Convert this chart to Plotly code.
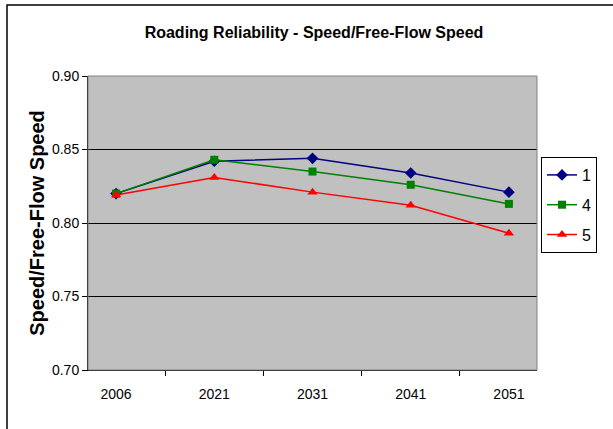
import plotly.graph_objects as go

# chart data
years = ["2006", "2021", "2031", "2041", "2051"]
s1 = [0.820, 0.842, 0.844, 0.834, 0.821]
s4 = [0.820, 0.843, 0.835, 0.826, 0.813]
s5 = [0.819, 0.831, 0.821, 0.812, 0.793]
names = ["1", "4", "5"]

FONT = "Liberation Sans, Arial, sans-serif"

fig = go.Figure()
fig.add_scatter(x=years, y=s1, name=names[0], mode="lines+markers", legendgroup="a",
                line=dict(color="#000080", width=1.5),
                marker=dict(symbol="diamond", size=9, color="#000080"))
fig.add_scatter(x=years, y=s4, name=names[1], mode="lines+markers", legendgroup="b",
                line=dict(color="#008000", width=1.5),
                marker=dict(symbol="square", size=8, color="#008000"))
fig.add_scatter(x=years, y=s5, name=names[2], mode="lines+markers", legendgroup="c",
                line=dict(color="#FF0000", width=1.5),
                marker=dict(symbol="triangle-up", size=9, color="#FF0000"))

# plot area in px (body margin is removed below, so page px == figure px)
FW, FH = 613, 429
L, T = 88, 76
W, H = 449, 294
R, B = FW - L - W, FH - T - H

fig.update_layout(
    width=FW, height=FH,
    margin=dict(l=L, r=R, t=T, b=B),
    paper_bgcolor="white",
    plot_bgcolor="#C0C0C0",
    font=dict(family=FONT, size=14, color="black"),
    title=dict(text="<b>Roading Reliability - Speed/Free-Flow Speed</b>",
               x=314 / FW, xanchor="center",
               y=1 - 32 / FH, yanchor="middle",
               font=dict(size=16, family=FONT)),
    showlegend=True,
    legend=dict(x=1 + (541 - 537) / W, xanchor="left",
                y=1 - (157 - T) / H, yanchor="top",
                bgcolor="white", bordercolor="black", borderwidth=1,
                font=dict(size=16), traceorder="grouped", tracegroupgap=6,
                itemwidth=30),
    xaxis=dict(type="category", showgrid=False, showline=True,
               linecolor="black", linewidth=1,
               ticks="outside", tickson="boundaries", ticklen=5,
               tickcolor="black", tickfont=dict(size=14),
               ticklabelstandoff=11),
    yaxis=dict(range=[0.70, 0.90], dtick=0.05, tickformat=".2f",
               showgrid=True, gridcolor="black", gridwidth=1,
               showline=True, linecolor="black", linewidth=1,
               ticks="outside", ticklen=5, tickcolor="black",
               tickfont=dict(size=14),
               title=dict(text="<b>Speed/Free-Flow Speed</b>",
                          font=dict(size=20), standoff=1)),
    shapes=[
        # plot area frame
        dict(type="rect", xref="paper", yref="paper", x0=0, x1=1, y0=0, y1=1,
             line=dict(color="#808080", width=1)),
        # outer chart border
        dict(type="rect", xref="paper", yref="paper",
             x0=(7 - L) / W, x1=1 + 120 / W,
             y0=-120 / H, y1=1 + (T - 5) / H,
             line=dict(color="black", width=1.5)),
    ],
)

fig.write_html("out.html", config={"displayModeBar": False},
               post_script="document.body.style.margin='0px';")
